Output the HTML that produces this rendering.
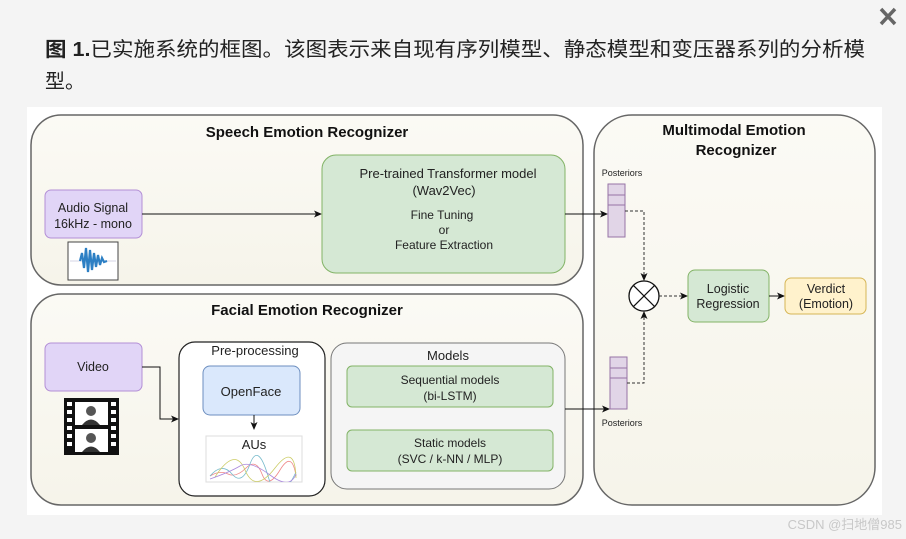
<!DOCTYPE html>
<html><head><meta charset="utf-8"><style>
html,body{margin:0;padding:0;background:#f4f4f4;width:906px;height:539px;overflow:hidden}
svg{display:block}
text{font-family:"Liberation Sans","Noto Sans CJK SC",sans-serif}
</style></head><body>
<svg width="906" height="539" viewBox="0 0 906 539" xmlns="http://www.w3.org/2000/svg">
<defs>
<marker id="ar" markerWidth="8" markerHeight="8" refX="7" refY="4" orient="auto" markerUnits="userSpaceOnUse"><path d="M0,0.5 L8,4 L0,7.5 L2,4 Z" fill="#111"/></marker>
<linearGradient id="bg" x1="0" y1="0" x2="0" y2="1"><stop offset="0" stop-color="#fbfaf5"/><stop offset="1" stop-color="#f6f4ea"/></linearGradient>
<clipPath id="cp"><rect x="206" y="436" width="96" height="46"/></clipPath>
</defs>
<rect width="906" height="539" fill="#f4f4f4"/>
<path d="M881,9 L895,24 M895,9 L881,24" stroke="#666" stroke-width="3.5"/>
<text x="45" y="56" font-size="20" fill="#222" textLength="820" lengthAdjust="spacingAndGlyphs"><tspan font-weight="bold">图 1.</tspan>已实施系统的框图。该图表示来自现有序列模型、静态模型和变压器系列的分析模</text>
<text x="45" y="88" font-size="20" fill="#222">型。</text>
<rect x="27" y="107" width="855" height="408" fill="#fff"/>
<rect x="31" y="115" width="552" height="170" rx="30" fill="url(#bg)" stroke="#666" stroke-width="1.5"/>
<rect x="31" y="294" width="552" height="211" rx="30" fill="url(#bg)" stroke="#666" stroke-width="1.5"/>
<rect x="594" y="115" width="281" height="390" rx="38" fill="url(#bg)" stroke="#666" stroke-width="1.5"/>
<text x="307" y="137" font-size="15" font-weight="bold" text-anchor="middle" fill="#111">Speech Emotion Recognizer</text>
<text x="307" y="315" font-size="15" font-weight="bold" text-anchor="middle" fill="#111">Facial Emotion Recognizer</text>
<text x="734" y="135" font-size="15" font-weight="bold" text-anchor="middle" fill="#111">Multimodal Emotion</text>
<text x="736" y="155" font-size="15" font-weight="bold" text-anchor="middle" fill="#111">Recognizer</text>
<rect x="45" y="190" width="97" height="48" rx="6" fill="#e1d5f7" stroke="#b38fd6"/>
<text x="93" y="212" font-size="12.5" text-anchor="middle" fill="#222">Audio Signal</text>
<text x="93" y="228" font-size="12.5" text-anchor="middle" fill="#222">16kHz - mono</text>
<rect x="68" y="242" width="50" height="38" fill="#fff" stroke="#444"/>
<line x1="70" y1="261" x2="116" y2="261" stroke="#aac" stroke-width="0.5"/>
<path d="M80,261 L82,253 L84,268 L86,248 L88,272 L90,250 L92,270 L94,253 L96,267 L98,255 L100,265 L102,258 L104,262 L107,261" stroke="#2c7fc4" stroke-width="2.2" fill="none"/>
<line x1="142" y1="214" x2="321" y2="214" stroke="#111" marker-end="url(#ar)"/>
<rect x="322" y="155" width="243" height="118" rx="14" fill="#d5e8d4" stroke="#82b366"/>
<text x="448" y="178" font-size="13" text-anchor="middle" fill="#222">Pre-trained Transformer model</text>
<text x="444" y="195" font-size="13" text-anchor="middle" fill="#222">(Wav2Vec)</text>
<text x="442" y="219" font-size="12" text-anchor="middle" fill="#222">Fine Tuning</text>
<text x="444" y="234" font-size="12" text-anchor="middle" fill="#222">or</text>
<text x="444" y="249" font-size="12" text-anchor="middle" fill="#222">Feature Extraction</text>
<line x1="565" y1="214" x2="607" y2="214" stroke="#111" marker-end="url(#ar)"/>
<rect x="45" y="343" width="97" height="48" rx="6" fill="#e1d5f7" stroke="#b38fd6"/>
<text x="93" y="371" font-size="12.5" text-anchor="middle" fill="#222">Video</text>
<rect x="64" y="398" width="55" height="57" fill="#111"/>
<rect x="75" y="402" width="33" height="23" fill="#fff"/>
<rect x="75" y="429" width="33" height="23" fill="#fff"/>
<circle cx="91" cy="411" r="5" fill="#555"/><path d="M82,425 Q91,414 100,425 Z" fill="#333"/>
<circle cx="91" cy="438" r="5" fill="#555"/><path d="M82,452 Q91,441 100,452 Z" fill="#333"/>
<g fill="#fff"><rect x="67" y="402" width="5" height="4"/><rect x="67" y="410" width="5" height="4"/><rect x="67" y="418" width="5" height="4"/><rect x="67" y="426" width="5" height="4"/><rect x="67" y="434" width="5" height="4"/><rect x="67" y="442" width="5" height="4"/>
<rect x="111" y="402" width="5" height="4"/><rect x="111" y="410" width="5" height="4"/><rect x="111" y="418" width="5" height="4"/><rect x="111" y="426" width="5" height="4"/><rect x="111" y="434" width="5" height="4"/><rect x="111" y="442" width="5" height="4"/></g>
<polyline points="142,367 160,367 160,419 178,419" fill="none" stroke="#111" marker-end="url(#ar)"/>
<rect x="179" y="342" width="146" height="154" rx="16" fill="#fff" stroke="#222" stroke-width="1.2"/>
<text x="255" y="355" font-size="13" text-anchor="middle" fill="#222">Pre-processing</text>
<rect x="203" y="366" width="97" height="49" rx="7" fill="#dae8fc" stroke="#6c8ebf"/>
<text x="251" y="396" font-size="13" text-anchor="middle" fill="#222">OpenFace</text>
<line x1="254" y1="415" x2="254" y2="429" stroke="#111" marker-end="url(#ar)"/>
<rect x="206" y="436" width="96" height="46" fill="#fff" stroke="#ddd"/>
<g clip-path="url(#cp)" stroke-width="0.8" fill="none">
<path d="M210,476 Q220,470 228,474 T246,468 T262,474 T280,470 T296,476" stroke="#e88"/>
<path d="M210,476 Q222,462 232,474 T250,464 T268,476 T296,472" stroke="#7bc"/>
<path d="M215,477 Q235,446 245,470 T275,468 T296,478" stroke="#cc6"/>
<path d="M210,479 Q230,472 240,466 T270,475 T296,474" stroke="#a8d"/>
</g>
<text x="254" y="449" font-size="13" text-anchor="middle" fill="#222">AUs</text>
<rect x="331" y="343" width="234" height="146" rx="16" fill="#f5f5f5" stroke="#777"/>
<text x="448" y="360" font-size="13" text-anchor="middle" fill="#222">Models</text>
<rect x="347" y="366" width="206" height="41" rx="5" fill="#d5e8d4" stroke="#82b366"/>
<text x="450" y="384" font-size="12" text-anchor="middle" fill="#222">Sequential models</text>
<text x="450" y="400" font-size="12" text-anchor="middle" fill="#222">(bi-LSTM)</text>
<rect x="347" y="430" width="206" height="41" rx="5" fill="#d5e8d4" stroke="#82b366"/>
<text x="450" y="447" font-size="12" text-anchor="middle" fill="#222">Static models</text>
<text x="450" y="463" font-size="12" text-anchor="middle" fill="#222">(SVC / k-NN / MLP)</text>
<line x1="565" y1="409" x2="609" y2="409" stroke="#111" marker-end="url(#ar)"/>
<text x="622" y="176" font-size="9" text-anchor="middle" fill="#222">Posteriors</text>
<rect x="608" y="184" width="17" height="53" fill="#e1d5e7" stroke="#9673a6"/>
<line x1="608" y1="195" x2="625" y2="195" stroke="#9673a6"/><line x1="608" y1="205" x2="625" y2="205" stroke="#9673a6"/>
<rect x="610" y="357" width="17" height="52" fill="#e1d5e7" stroke="#9673a6"/>
<line x1="610" y1="368" x2="627" y2="368" stroke="#9673a6"/><line x1="610" y1="378" x2="627" y2="378" stroke="#9673a6"/>
<text x="622" y="426" font-size="9" text-anchor="middle" fill="#222">Posteriors</text>
<polyline points="625,211 644,211 644,280" fill="none" stroke="#333" stroke-dasharray="3,2" marker-end="url(#ar)"/>
<polyline points="627,383 644,383 644,312" fill="none" stroke="#333" stroke-dasharray="3,2" marker-end="url(#ar)"/>
<circle cx="644" cy="296" r="15" fill="#fff" stroke="#111" stroke-width="1.3"/>
<path d="M633.4,285.4 L654.6,306.6 M654.6,285.4 L633.4,306.6" stroke="#111" stroke-width="1.2"/>
<line x1="659" y1="296" x2="687" y2="296" stroke="#333" stroke-dasharray="3,2" marker-end="url(#ar)"/>
<rect x="688" y="270" width="81" height="52" rx="7" fill="#d5e8d4" stroke="#82b366"/>
<text x="728" y="293" font-size="12.5" text-anchor="middle" fill="#222">Logistic</text>
<text x="728" y="308" font-size="12.5" text-anchor="middle" fill="#222">Regression</text>
<line x1="769" y1="296" x2="784" y2="296" stroke="#111" marker-end="url(#ar)"/>
<rect x="785" y="278" width="81" height="36" rx="6" fill="#fff2cc" stroke="#d6b656"/>
<text x="826" y="293" font-size="12.5" text-anchor="middle" fill="#222">Verdict</text>
<text x="826" y="308" font-size="12.5" text-anchor="middle" fill="#222">(Emotion)</text>
<text x="902" y="529" font-size="13" text-anchor="end" fill="#c8c8c8">CSDN @扫地僧985</text>
</svg>
</body></html>
